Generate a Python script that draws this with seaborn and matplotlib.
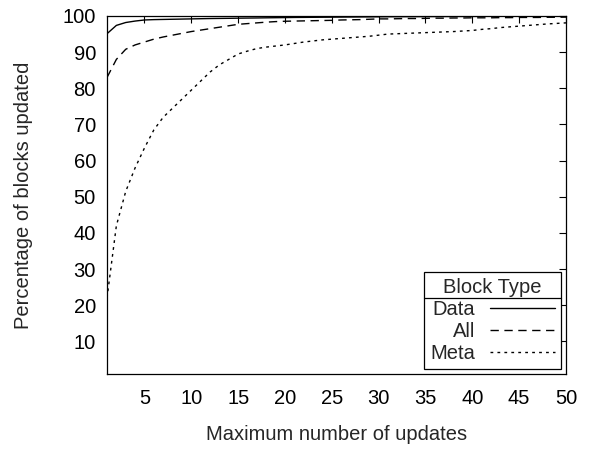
import numpy as np
import pandas as pd
import matplotlib
matplotlib.use("Agg")
import matplotlib.pyplot as plt
from matplotlib.lines import Line2D
import seaborn as sns

updates = list(range(1, 51))

data_pct = [95.1, 97.4, 98.2, 98.6, 98.9, 99.0, 99.05, 99.1, 99.15, 99.2,
            99.25, 99.3, 99.33, 99.36, 99.4, 99.43, 99.46, 99.5, 99.53, 99.56,
            99.6, 99.62, 99.64, 99.66, 99.68, 99.7, 99.72, 99.74, 99.76, 99.78,
            99.8, 99.81, 99.82, 99.83, 99.84, 99.85, 99.86, 99.87, 99.88, 99.89,
            99.9, 99.91, 99.92, 99.93, 99.94, 99.95, 99.96, 99.97, 99.98, 100.0]

all_pct = [83.0, 88.0, 90.8, 92.0, 92.8, 93.6, 94.2, 94.7, 95.2, 95.7,
           96.1, 96.5, 96.9, 97.3, 97.7, 97.9, 98.1, 98.3, 98.45, 98.55,
           98.6, 98.65, 98.7, 98.75, 98.8, 98.9, 98.95, 99.0, 99.1, 99.2,
           99.2, 99.25, 99.3, 99.3, 99.35, 99.4, 99.4, 99.45, 99.45, 99.5,
           99.5, 99.5, 99.55, 99.55, 99.6, 99.6, 99.6, 99.65, 99.65, 99.7]

meta_pct = [22.0, 42.0, 51.5, 58.0, 63.5, 68.5, 72.0, 74.5, 77.0, 79.5,
            82.0, 84.5, 86.5, 88.0, 89.5, 90.3, 91.0, 91.4, 91.7, 92.0,
            92.4, 92.8, 93.1, 93.4, 93.6, 93.8, 94.0, 94.2, 94.4, 94.7,
            95.0, 95.1, 95.2, 95.3, 95.4, 95.5, 95.6, 95.7, 95.85, 96.0,
            96.3, 96.5, 96.8, 97.0, 97.2, 97.4, 97.6, 97.8, 97.95, 98.1]

block_types = ["Data", "All", "Meta"]
dash_styles = {"Data": "", "All": (6, 4), "Meta": (2, 3)}

df = pd.DataFrame({
    "updates": updates * 3,
    "pct": data_pct + all_pct + meta_pct,
    "type": ["Data"] * 50 + ["All"] * 50 + ["Meta"] * 50,
})

sns.set_style("white")
plt.rcParams["font.family"] = ["Liberation Sans", "DejaVu Sans"]
fs = 14.5
plt.rcParams["font.size"] = fs

fig = plt.figure(figsize=(5.91, 4.49), dpi=100)
ax = fig.add_axes([107 / 591, 75 / 449, 459 / 591, 358 / 449])

sns.lineplot(data=df, x="updates", y="pct", style="type", style_order=block_types,
             dashes=dash_styles, color="black", linewidth=1.0, legend=False, ax=ax)

ax.set_xlim(1, 50)
ax.set_ylim(1, 100)
ax.set_xticks([5, 10, 15, 20, 25, 30, 35, 40, 45, 50])
ax.set_yticks([10, 20, 30, 40, 50, 60, 70, 80, 90, 100])
ax.tick_params(direction="in", length=5, width=0.8, top=True, right=True,
               labelsize=fs, colors="black")
ax.tick_params(axis="x", pad=11)
ax.tick_params(axis="y", pad=8)
for s in ax.spines.values():
    s.set_linewidth(0.9)
    s.set_color("black")

ax.set_xlabel("Maximum number of updates", fontsize=fs, labelpad=12)
ax.set_ylabel("Percentage of blocks updated", fontsize=fs, labelpad=21)

handles = [Line2D([], [], color="black", linewidth=1.0,
                  dashes=dash_styles[t] if dash_styles[t] else (None, None))
           for t in block_types]
handles[0].set_linestyle("-")
leg = ax.legend(handles, block_types, title="Block Type", loc="lower right",
                markerfirst=False, frameon=True, fancybox=False, shadow=False,
                fontsize=fs, title_fontsize=fs, handlelength=3.2,
                handletextpad=0.75, labelspacing=0.15, borderpad=0.3,
                borderaxespad=0.25, edgecolor="black", framealpha=1)
leg.get_frame().set_linewidth(0.9)
for col in leg._legend_handle_box.get_children():
    col.align = "right"

# line under the legend title
fig.canvas.draw()
fb = leg.get_frame().get_window_extent()
tb = leg.get_title().get_window_extent()
first = leg.get_texts()[0].get_window_extent()
ysep = (tb.y0 + first.y1) / 2
inv = fig.transFigure.inverted()
(x0, y0), (x1, _) = inv.transform([(fb.x0, ysep), (fb.x1, ysep)])
fig.add_artist(Line2D([x0, x1], [y0, y0], color="black", linewidth=0.9,
                      transform=fig.transFigure))

fig.savefig("out.png", dpi=100)
